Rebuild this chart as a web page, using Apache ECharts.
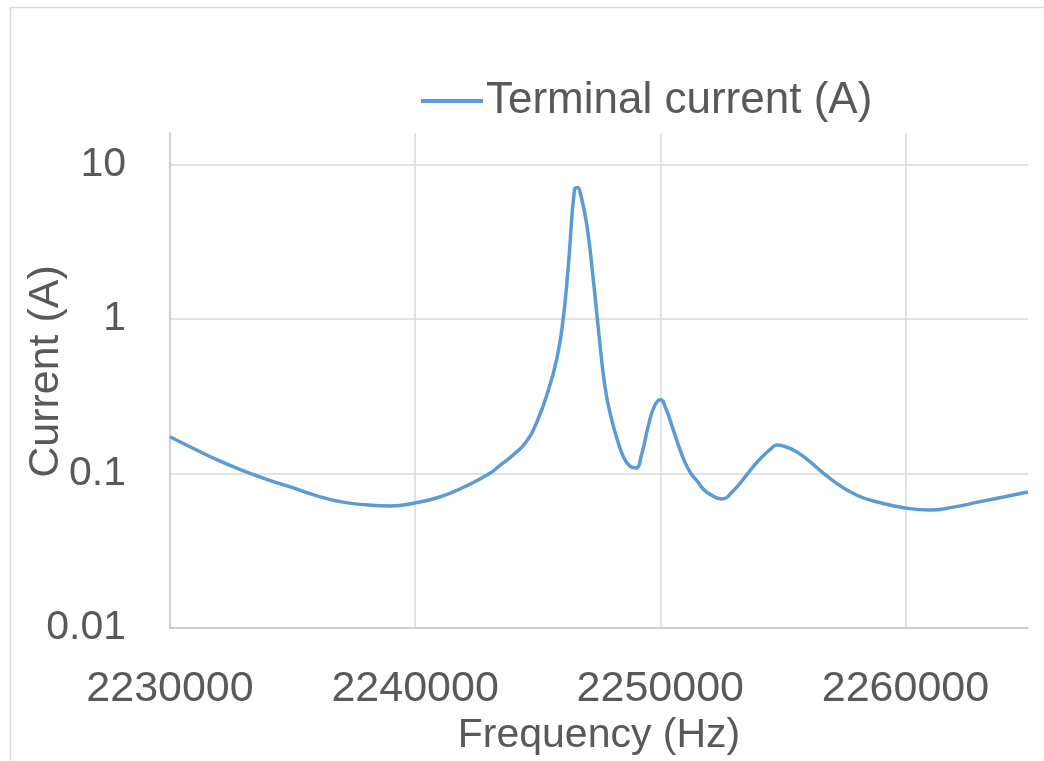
<!DOCTYPE html>
<html>
<head>
<meta charset="utf-8">
<script src="https://cdn.jsdelivr.net/npm/echarts@6/dist/echarts.min.js"></script>
<style>
  html, body { margin: 0; padding: 0; background: #ffffff; }
  #chart { width: 1044px; height: 761px; }
</style>
</head>
<body>
<div id="chart"></div>
<script>
// Frequency (Hz)
const frequency = [
  2230000, 2231000, 2232000, 2233000, 2234000, 2235000, 2236000, 2237000, 2238000, 2239000,
  2240000, 2241000, 2242000, 2243000, 2243500, 2244000, 2244500, 2245000, 2245500, 2245750,
  2246000, 2246250, 2246500, 2246625, 2246750, 2247000, 2247250, 2247500, 2247750, 2248000,
  2248250, 2248500, 2248750, 2249000, 2249250, 2249500, 2249750, 2250000, 2250250, 2250500,
  2250750, 2251000, 2251250, 2251500, 2251750, 2252000, 2252500, 2253000, 2253500, 2254000,
  2254500, 2254750, 2255000, 2255500, 2256000, 2257000, 2258000, 2259000, 2260000, 2261000,
  2262000, 2263000, 2264000, 2265000
];
// Terminal current (A)
const terminalCurrent = [
  0.173, 0.144, 0.121, 0.104, 0.091, 0.081, 0.0717, 0.0655, 0.0627, 0.0617,
  0.0645, 0.0705, 0.0818, 0.0993, 0.114, 0.132, 0.158, 0.222, 0.375, 0.528,
  0.89, 2.21, 6.89, 7.1, 6.4, 4.09, 1.91, 0.79, 0.359, 0.229,
  0.165, 0.128, 0.112, 0.1086, 0.135, 0.200, 0.270, 0.300, 0.258, 0.198,
  0.151, 0.119, 0.100, 0.0895, 0.0794, 0.0738, 0.0685, 0.078, 0.097, 0.121,
  0.144, 0.153, 0.151, 0.140, 0.123, 0.091, 0.0726, 0.0645, 0.0598, 0.058,
  0.0608, 0.0655, 0.0705, 0.076
];
const seriesName = 'Terminal current (A)';
const xTitle = 'Frequency (Hz)';
const yTitle = 'Current (A)';
const xMin = 2230000, xMax = 2265000, xStep = 10000;
const yMin = 0.01, yMax = 16;

const FONT = '"Liberation Sans", Arial, sans-serif';
const TXT = '#595959';

const chart = echarts.init(document.getElementById('chart'), null, { renderer: 'canvas' });
chart.setOption({
  animation: false,
  backgroundColor: '#ffffff',
  graphic: [{
    type: 'rect', left: 8, top: 5, silent: true,
    shape: { width: 1100, height: 800 },
    style: { fill: 'none', stroke: '#d9d9d9', lineWidth: 1.5 }
  }],
  legend: {
    data: [seriesName],
    left: 416, top: 74,
    icon: 'rect', itemWidth: 62, itemHeight: 4,
    textStyle: { color: TXT, fontSize: 44, fontFamily: FONT, padding: [0, 0, 0, -2] }
  },
  grid: { left: 170, right: 16, top: 133, bottom: 133, containLabel: false, outerBoundsMode: 'none' },
  xAxis: {
    type: 'value', min: xMin, max: xMax, interval: xStep,
    name: xTitle, nameLocation: 'middle', nameGap: 87, nameMoveOverlap: false,
    nameTextStyle: { color: TXT, fontSize: 41, fontFamily: FONT },
    axisLine: { show: true, lineStyle: { color: '#bfbfbf', width: 1.5 } },
    axisTick: { show: false },
    axisLabel: { color: TXT, fontSize: 43, fontFamily: FONT, margin: 40, showMaxLabel: false,
      formatter: v => String(Math.round(v)) },
    splitLine: { show: true, showMinLine: false, showMaxLine: false, lineStyle: { color: '#d9d9d9', width: 1.5 } }
  },
  yAxis: {
    type: 'log', logBase: 10, min: yMin, max: yMax,
    name: yTitle, nameLocation: 'middle', nameGap: 102, nameMoveOverlap: false,
    nameTextStyle: { color: TXT, fontSize: 43, fontFamily: FONT, padding: [0, 0, 0, 18] },
    axisLine: { show: true, lineStyle: { color: '#bfbfbf', width: 1.5 } },
    axisTick: { show: false },
    axisLabel: { color: TXT, fontSize: 41, fontFamily: FONT, margin: 44, showMaxLabel: false,
      formatter: v => String(parseFloat(Number(v).toPrecision(6))) },
    splitLine: { show: true, showMinLine: false, showMaxLine: false, lineStyle: { color: '#d9d9d9', width: 1.5 } }
  },
  series: [{
    name: seriesName,
    type: 'line',
    data: frequency.map((f, i) => [f, terminalCurrent[i]]),
    smooth: 0.5,
    showSymbol: false,
    symbol: 'none',
    lineStyle: { color: '#5b9bd5', width: 3.5 },
    itemStyle: { color: '#5b9bd5' }
  }]
});
</script>
</body>
</html>
